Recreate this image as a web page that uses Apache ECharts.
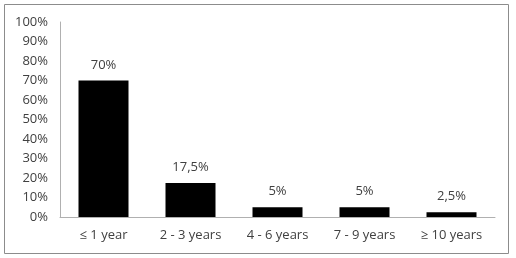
<!DOCTYPE html>
<html><head><meta charset="utf-8">
<script src="https://cdn.jsdelivr.net/npm/echarts@6/dist/echarts.min.js"></script>
<style>html,body{margin:0;padding:0;background:#fff}#c{width:516px;height:258px}</style>
</head><body><div id="c"></div>
<script>
const categories = ['≤ 1 year', '2 - 3 years', '4 - 6 years', '7 - 9 years', '≥ 10 years'];
const values = [70, 17.5, 5, 5, 2.5];
const valueLabels = ['70%', '17,5%', '5%', '5%', '2,5%'];
const yTicks = [0, 10, 20, 30, 40, 50, 60, 70, 80, 90, 100];

const chart = echarts.init(document.getElementById('c'), null, {renderer: 'canvas'});
const font = 'Open Sans';
chart.setOption({
  animation: false,
  graphic: [{type: 'rect', shape: {x: 4.5, y: 4.5, width: 504, height: 249}, style: {fill: 'none', stroke: '#8c8c8c', lineWidth: 1}}],
  grid: {left: 60, right: 21, top: 22, bottom: 41},
  xAxis: {
    type: 'category', data: categories,
    axisLine: {lineStyle: {color: '#b0b0b0'}},
    axisTick: {show: false},
    axisLabel: {color: '#404040', fontFamily: font, fontSize: 13, margin: 12}
  },
  yAxis: {
    type: 'value', min: 0, max: 100, interval: 10,
    axisLine: {show: true, lineStyle: {color: '#b0b0b0'}},
    axisTick: {show: false},
    splitLine: {show: false},
    axisLabel: {color: '#404040', fontFamily: font, fontSize: 13, margin: 12,
      formatter: v => yTicks.includes(v) ? v + '%' : ''}
  },
  series: [{
    type: 'bar', data: values, barWidth: 50,
    itemStyle: {color: '#000'},
    label: {show: true, position: 'top', distance: 9, color: '#404040', fontFamily: font, fontSize: 13,
      formatter: p => valueLabels[p.dataIndex]}
  }]
});
</script></body></html>
